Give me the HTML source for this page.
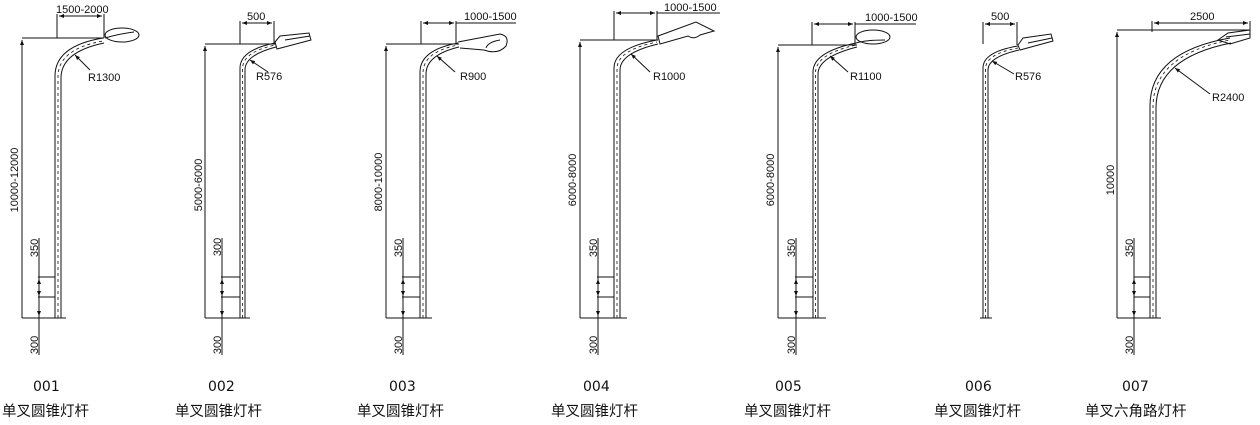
<!DOCTYPE html>
<html><head><meta charset="utf-8"><style>
html,body{margin:0;padding:0;background:#fff;width:1260px;height:425px;overflow:hidden}
svg{display:block}
.t{font-family:"Liberation Sans",sans-serif;font-size:11px;fill:#111}
.n{font-family:"DejaVu Sans","Liberation Sans",sans-serif;font-size:14px;fill:#111}
.c{font-family:"Liberation Sans","Noto Sans CJK SC",sans-serif;font-size:14.5px;fill:#111}
</style></head><body>
<svg width="1260" height="425" viewBox="0 0 1260 425" xmlns="http://www.w3.org/2000/svg">
<defs>
<marker id="a" markerWidth="6" markerHeight="6" refX="5" refY="3" orient="auto" markerUnits="userSpaceOnUse"><path d="M0,1 L5,3 L0,5Z" fill="#111"/></marker>
</defs>
<g stroke="#111" stroke-width="1" fill="none">
<!-- Pole 1 -->
<path d="M55 318 V76 Q55 46 103 38"/><path d="M61 318 V78 Q61 52 104 43"/>
<path d="M58 318 V77 Q58 49 103 41" stroke-dasharray="3 3" stroke-width="0.8"/>
<ellipse cx="122" cy="35" rx="17" ry="7"/><path d="M105 38 Q118 34 134 32"/>
<path d="M22 38 H104"/><path d="M22 318 V40" marker-end="url(#a)"/>
<path d="M22 318 H66"/><path d="M38 277 H55 M38 297 H55"/>
<path d="M39 238 V355"/><path d="M39 285 V279" marker-end="url(#a)"/><path d="M39 292 V296" marker-end="url(#a)"/><path d="M39 306 V316" marker-end="url(#a)"/>
<path d="M57 14 V38 M104 14 V38"/><path d="M80 16 H59" marker-end="url(#a)"/><path d="M80 16 H102" marker-end="url(#a)"/>
<path d="M90 70 L75 55" marker-end="url(#a)"/>
<!-- Pole 2 -->
<path d="M240 318 V68 Q240 50 275 43"/><path d="M245 318 V70 Q245 55 276 47"/>
<path d="M242.5 318 V69 Q242.5 52 275 45" stroke-dasharray="3 3" stroke-width="0.8"/>
<path d="M275 42 L280 36 L309 33 L311 40 L277 49Z"/><path d="M285 40 L310 36"/>
<path d="M205 44 H276"/><path d="M205 318 V46" marker-end="url(#a)"/>
<path d="M205 318 H250"/><path d="M221 277 H240 M221 297 H240"/>
<path d="M222 238 V355"/><path d="M222 285 V279" marker-end="url(#a)"/><path d="M222 292 V296" marker-end="url(#a)"/><path d="M222 306 V316" marker-end="url(#a)"/>
<path d="M240 21 V44 M274 21 V44"/><path d="M257 23 H242" marker-end="url(#a)"/><path d="M257 23 H272" marker-end="url(#a)"/>
<path d="M268 72 L250 60" marker-end="url(#a)"/>
<!-- Pole 3 -->
<path d="M420 318 V72 Q420 50 458 43"/><path d="M426 318 V74 Q426 55 459 47"/>
<path d="M423 318 V73 Q423 52 458 45" stroke-dasharray="3 3" stroke-width="0.8"/>
<path d="M458 42 L500 34 Q510 36 506 46 Q498 55 484 50 L460 48"/><path d="M486 48 Q488 42 500 40"/>
<path d="M386 44 H459"/><path d="M386 318 V46" marker-end="url(#a)"/>
<path d="M386 318 H432"/><path d="M402 277 H420 M402 297 H420"/>
<path d="M403 238 V355"/><path d="M403 285 V279" marker-end="url(#a)"/><path d="M403 292 V296" marker-end="url(#a)"/><path d="M403 306 V316" marker-end="url(#a)"/>
<path d="M421 21 V44 M456 21 V44"/><path d="M438 23 H423" marker-end="url(#a)"/><path d="M438 23 H454" marker-end="url(#a)"/><path d="M456 23 H516"/>
<path d="M455 72 L437 56" marker-end="url(#a)"/>
<!-- Pole 4 -->
<path d="M614 318 V68 Q614 48 657 40"/><path d="M620 318 V70 Q620 53 658 44"/>
<path d="M617 318 V69 Q617 50 657 42" stroke-dasharray="3 3" stroke-width="0.8"/>
<path d="M658 36 L696 22 L714 31 L700 35 Q694 40 688 36 L660 44Z"/>
<path d="M580 40 H658"/><path d="M580 318 V42" marker-end="url(#a)"/>
<path d="M580 318 H627"/><path d="M597 277 H614 M597 297 H614"/>
<path d="M598 238 V355"/><path d="M598 285 V279" marker-end="url(#a)"/><path d="M598 292 V296" marker-end="url(#a)"/><path d="M598 306 V316" marker-end="url(#a)"/>
<path d="M614 11 V40 M657 11 V40"/><path d="M636 13 H616" marker-end="url(#a)"/><path d="M636 13 H655" marker-end="url(#a)"/><path d="M657 13 H720"/>
<path d="M650 72 L631 54" marker-end="url(#a)"/>
<!-- Pole 5 -->
<path d="M813 318 V72 Q813 52 856 43"/><path d="M818 318 V74 Q818 57 857 47"/>
<path d="M815.5 318 V73 Q815.5 54 856 45" stroke-dasharray="3 3" stroke-width="0.8"/>
<ellipse cx="873" cy="37" rx="17" ry="7"/><path d="M856 43 Q866 40 885 40"/>
<path d="M778 45 H857"/><path d="M778 318 V47" marker-end="url(#a)"/>
<path d="M778 318 H826"/><path d="M795 277 H813 M795 297 H813"/>
<path d="M796 238 V355"/><path d="M796 285 V279" marker-end="url(#a)"/><path d="M796 292 V296" marker-end="url(#a)"/><path d="M796 306 V316" marker-end="url(#a)"/>
<path d="M812 22 V45 M855 22 V45"/><path d="M834 24 H814" marker-end="url(#a)"/><path d="M834 24 H853" marker-end="url(#a)"/><path d="M855 24 H916"/>
<path d="M848 72 L830 56" marker-end="url(#a)"/>
<!-- Pole 6 -->
<path d="M983 318 V68 Q983 52 1018 46"/><path d="M988 318 V70 Q988 57 1019 50"/>
<path d="M985.5 318 V69 Q985.5 54 1018 48" stroke-dasharray="3 3" stroke-width="0.8"/>
<path d="M1018 45 L1023 38 L1051 34 L1053 41 L1020 50Z"/><path d="M1028 43 L1052 38"/>
<path d="M980 318 H992"/>
<path d="M983 22 V44 M1017 22 V45"/><path d="M1000 24 H985" marker-end="url(#a)"/><path d="M1000 24 H1015" marker-end="url(#a)"/>
<path d="M1014 74 L992 61" marker-end="url(#a)"/>
<!-- Pole 7 -->
<path d="M1150 318 V106 Q1150 52 1230 38"/><path d="M1156 318 V108 Q1156 58 1231 43"/>
<path d="M1153 318 V107 Q1153 55 1230 40" stroke-dasharray="3 3" stroke-width="0.8"/>
<path d="M1218 40 L1228 33 L1250 30 L1250 38 L1230 44Z"/><path d="M1226 37 L1250 34"/>
<path d="M1117 30 H1250"/><path d="M1117 318 V32" marker-end="url(#a)"/>
<path d="M1117 318 H1161"/><path d="M1134 277 H1150 M1134 297 H1150"/>
<path d="M1134 238 V355"/><path d="M1134 285 V279" marker-end="url(#a)"/><path d="M1134 292 V296" marker-end="url(#a)"/><path d="M1134 306 V316" marker-end="url(#a)"/>
<path d="M1152 21 V32 M1250 21 V32"/><path d="M1200 23 H1154" marker-end="url(#a)"/><path d="M1200 23 H1248" marker-end="url(#a)"/>
<path d="M1210 94 L1175 68" marker-end="url(#a)"/>
</g>
<g class="t">
<text x="56" y="13">1500-2000</text><text x="88" y="81">R1300</text>
<text transform="translate(18,180) rotate(-90)" text-anchor="middle">10000-12000</text>
<text transform="translate(38,248) rotate(-90)" text-anchor="middle">350</text>
<text transform="translate(38,345) rotate(-90)" text-anchor="middle">300</text>

<text x="247" y="20">500</text><text x="256" y="80">R576</text>
<text transform="translate(202,185) rotate(-90)" text-anchor="middle">5000-6000</text>
<text transform="translate(221,247) rotate(-90)" text-anchor="middle">300</text>
<text transform="translate(221,345) rotate(-90)" text-anchor="middle">300</text>

<text x="464" y="20">1000-1500</text><text x="460" y="80">R900</text>
<text transform="translate(382,182) rotate(-90)" text-anchor="middle">8000-10000</text>
<text transform="translate(402,248) rotate(-90)" text-anchor="middle">350</text>
<text transform="translate(402,345) rotate(-90)" text-anchor="middle">300</text>

<text x="664" y="11">1000-1500</text><text x="653" y="80">R1000</text>
<text transform="translate(576,180) rotate(-90)" text-anchor="middle">6000-8000</text>
<text transform="translate(597,248) rotate(-90)" text-anchor="middle">350</text>
<text transform="translate(597,345) rotate(-90)" text-anchor="middle">300</text>

<text x="865" y="21">1000-1500</text><text x="850" y="80">R1100</text>
<text transform="translate(774,180) rotate(-90)" text-anchor="middle">6000-8000</text>
<text transform="translate(795,248) rotate(-90)" text-anchor="middle">350</text>
<text transform="translate(795,345) rotate(-90)" text-anchor="middle">300</text>

<text x="991" y="20">500</text><text x="1015" y="80">R576</text>

<text x="1190" y="20">2500</text><text x="1212" y="101">R2400</text>
<text transform="translate(1114,180) rotate(-90)" text-anchor="middle">10000</text>
<text transform="translate(1133,248) rotate(-90)" text-anchor="middle">350</text>
<text transform="translate(1133,345) rotate(-90)" text-anchor="middle">300</text>
</g>
<g class="n">
<text x="33" y="391">001</text><text x="208" y="391">002</text><text x="389" y="391">003</text><text x="583" y="391">004</text><text x="775" y="391">005</text><text x="965" y="391">006</text><text x="1122" y="391">007</text>
</g>
<g class="c">
<text x="2" y="416">单叉圆锥灯杆</text><text x="175" y="416">单叉圆锥灯杆</text><text x="357" y="416">单叉圆锥灯杆</text><text x="551" y="416">单叉圆锥灯杆</text><text x="744" y="416">单叉圆锥灯杆</text><text x="934" y="416">单叉圆锥灯杆</text><text x="1085" y="416">单叉六角路灯杆</text>
</g>
</svg>
</body></html>
